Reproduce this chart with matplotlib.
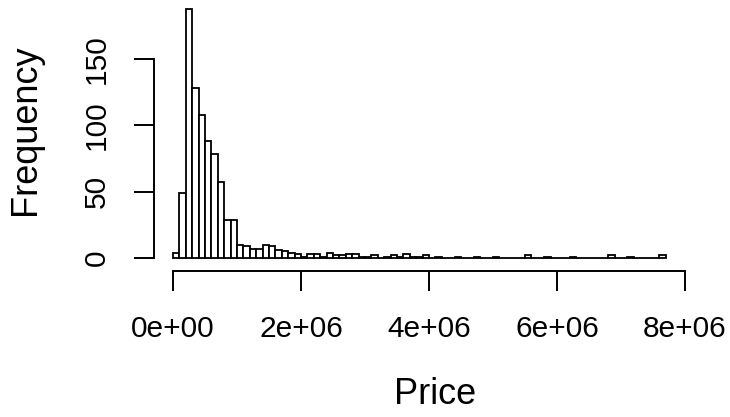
import numpy as np
import matplotlib.pyplot as plt

plt.rcParams['font.family'] = ['Liberation Sans', 'DejaVu Sans']

# histogram of Price, bins of width 1e5 starting at 0
bin_width = 1e5
counts = [4, 49, 188, 128, 108, 88, 78, 57, 29, 29,
          10, 9, 7, 7, 10, 9, 6, 5, 4, 3,
          1, 3, 3, 1, 4, 2, 2, 3, 3, 1,
          1, 2, 0, 1, 2, 1, 3, 1, 1, 2,
          0, 1, 0, 0, 1, 0, 0, 1, 0, 0,
          1, 0, 0, 0, 0, 2, 0, 0, 1, 0,
          0, 0, 1, 0, 0, 0, 0, 0, 2, 0,
          0, 1, 0, 0, 0, 0, 2]
edges = np.arange(len(counts)) * bin_width

xticks = [0, 2e6, 4e6, 6e6, 8e6]
xlabels = ['0e+00', '2e+06', '4e+06', '6e+06', '8e+06']
yticks = [0, 50, 100, 150]
ylabels = ['0', '50', '100', '150']

W, H = 730, 417
fig = plt.figure(figsize=(W / 100, H / 100), dpi=100)
# axes box in pixels: x 160..700, y 2..265 (from top)
ax = fig.add_axes([160 / W, 1 - 265 / H, 540 / W, 263 / H])

ax.bar(edges, counts, width=bin_width, align='edge',
       facecolor='white', edgecolor='black', linewidth=1.3)

ax.set_xlim(-203125, 8234375)
ax.set_ylim(-5.27, 192.9)

for s in ['top', 'right']:
    ax.spines[s].set_visible(False)
ax.spines['left'].set_bounds(0, 150)
ax.spines['bottom'].set_bounds(0, 8e6)
ax.spines['left'].set_position(('outward', 4.3))
ax.spines['bottom'].set_position(('outward', 4.3))
for s in ['left', 'bottom']:
    ax.spines[s].set_linewidth(1.4)

ax.set_xticks(xticks)
ax.set_xticklabels(xlabels)
ax.set_yticks(yticks)
ax.set_yticklabels(ylabels, rotation=90, va='center')
ax.tick_params(axis='both', length=14.4, width=1.4, labelsize=21.5, pad=17)

fig.text(26 / W, 1 - 130 / H, 'Frequency', rotation=90, fontsize=26,
         ha='center', va='center')
fig.text(435 / W, 1 - 395 / H, 'Price', fontsize=26,
         ha='center', va='center')

fig.savefig('out.png', dpi=100)
